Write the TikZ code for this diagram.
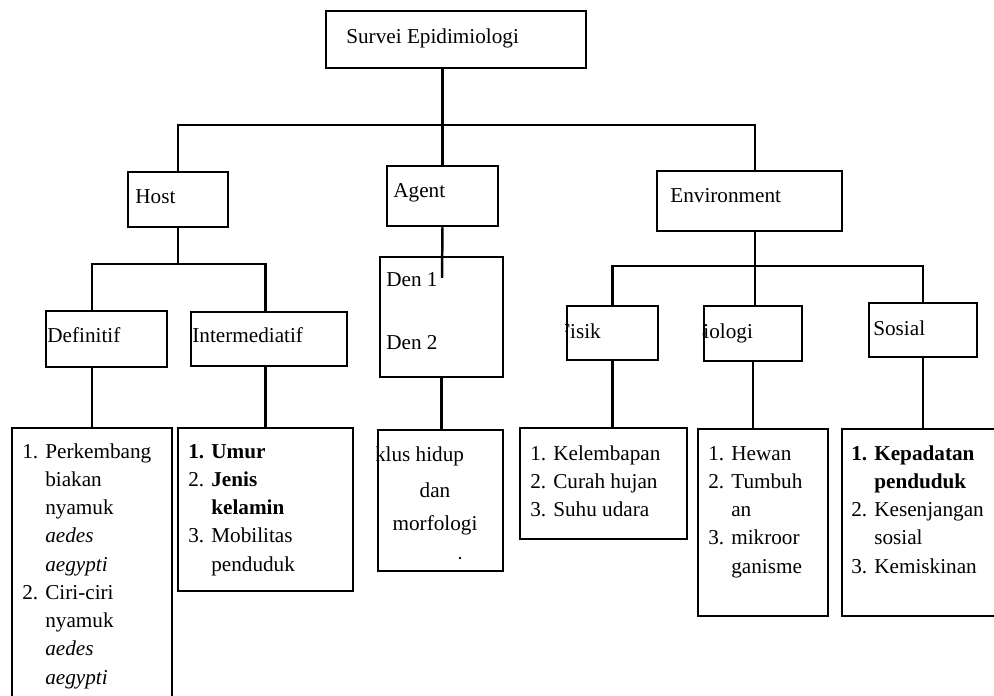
\documentclass[tikz,border=0pt]{standalone}
\usepackage{fontspec}
\setmainfont{Liberation Serif}
\usepackage{tikz}
\usetikzlibrary{positioning,fit,calc}

\tikzset{
    box/.style={draw, line width=1.4pt, inner sep=0pt},
    lbl/.style={font=\fontsize{12}{16}\selectfont, inner sep=0pt, anchor=base west},
    link/.style={line width=1.4pt}
}

\begin{document}
\begin{tikzpicture}[x=0.566pt, y=-0.566pt]
    \useasboundingbox (0,0) rectangle (994,695);
    \clip (0,0) rectangle (994,695);

    % boxes
    \node[box, fit={(326,11) (586,68)}] (survei) {};
    \node[box, fit={(128,172) (228,227)}] (host) {};
    \node[box, fit={(387,166) (498,226)}] (agent) {};
    \node[box, fit={(657,171) (842,231)}] (env) {};
    \node[box, fit={(46,311) (167,367)}] (definitif) {};
    \node[box, fit={(191,312) (347,366)}] (intermed) {};
    \node[box, fit={(380,257) (503,377)}] (den) {};
    \node[box, fit={(567,306) (658,360)}] (fisik) {};
    \node[box, fit={(704,306) (802,361)}] (biologi) {};
    \node[box, fit={(869,303) (977,357)}] (sosial) {};
    \node[box, fit={(12,428) (172,720)}] (deflist) {};
    \node[box, fit={(178,428) (353,591)}] (intlist) {};
    \node[box, fit={(378,430) (503,571)}] (morflist) {};
    \node[box, fit={(520,428) (687,539)}] (fisiklist) {};
    \node[box, fit={(698,429) (828,616)}] (biolist) {};
    \node[box, fit={(842,429) (1010,616)}] (soslist) {};

    % labels
    \node[lbl] (survei-t) at (346,43) {Survei Epidimiologi};
    \node[lbl] (host-t) at (135,203) {Host};
    \node[lbl] (agent-t) at (393,197) {Agent};
    \node[lbl] (env-t) at (670,202) {Environment};
    \node[lbl] (definitif-t) at (47,342) {Definitif};
    \node[lbl] (intermed-t) at (192,342) {Intermediatif};
    \node[lbl] (den-a) at (386,286) {Den 1};
    \node[lbl] (den-b) at (386,349) {Den 2};
    \node[lbl] (sosial-t) at (873,335) {Sosial};
    \begin{scope}
        \clip (fisik.south west) rectangle (fisik.north east);
        \node[lbl] (fisik-t) at (558,338) {Fisik};
    \end{scope}
    \begin{scope}
        \clip (biologi.south west) rectangle (biologi.north east);
        \node[lbl] (biologi-t) at (689,338) {Biologi};
    \end{scope}
    \begin{scope}
        \clip (morflist.south west) rectangle (morflist.north east);
        \node[lbl] (morf-a) at (357,461) {Siklus hidup};
    \end{scope}
    \node[lbl, anchor=base] (morf-b) at (435,497) {dan};
    \node[lbl, anchor=base] (morf-c) at (435,530) {morfologi};
    \fill (460,558) circle (1.3);

    % lists
    \node[lbl] (deflist-t) at (22,458) {\begin{tabular}[t]{@{}l@{\hspace{4pt}}l@{}}
        1. & Perkembang\\
           & biakan\\
           & nyamuk\\
           & \textit{aedes}\\
           & \textit{aegypti}\\
        2. & Ciri-ciri\\
           & nyamuk\\
           & \textit{aedes}\\
           & \textit{aegypti}
    \end{tabular}};
    \node[lbl] (intlist-t) at (188,458) {\begin{tabular}[t]{@{}l@{\hspace{4pt}}l@{}}
        \textbf{1.} & \textbf{Umur}\\
        2. & \textbf{Jenis}\\
           & \textbf{kelamin}\\
        3. & Mobilitas\\
           & penduduk
    \end{tabular}};
    \node[lbl] (fisiklist-t) at (530,460) {\begin{tabular}[t]{@{}l@{\hspace{4pt}}l@{}}
        1. & Kelembapan\\
        2. & Curah hujan\\
        3. & Suhu udara
    \end{tabular}};
    \node[lbl] (biolist-t) at (708,460) {\begin{tabular}[t]{@{}l@{\hspace{4pt}}l@{}}
        1. & Hewan\\
        2. & Tumbuh\\
           & an\\
        3. & mikroor\\
           & ganisme
    \end{tabular}};
    \node[lbl] (soslist-t) at (851,460) {\begin{tabular}[t]{@{}l@{\hspace{4pt}}l@{}}
        \textbf{1.} & \textbf{Kepadatan}\\
           & \textbf{penduduk}\\
        2. & Kesenjangan\\
           & sosial\\
        3. & Kemiskinan
    \end{tabular}};

    % connectors
    \coordinate (hub) at (442,125);
    \coordinate (hbar) at (178,264);
    \coordinate (ebar) at (755,266);
    \draw[link] (agent.north) -- (agent.north |- survei.south);
    \draw[link] (host.north) |- (hub) -| (env.north -| ebar);
    \draw[link] (host.south) -- (hbar);
    \draw[link] (definitif.north -| deflist.north) |- (hbar) -| (intermed.north -| intlist.north);
    \draw[link] (definitif.south -| deflist.north) -- (deflist.north);
    \draw[link] (intermed.south -| intlist.north) -- (intlist.north);
    \draw[link] (agent.south) -- ($(den.north)+(0.5,22)$);
    \draw[link] (den.south) -- (den.south |- morflist.north);
    \draw[link] (ebar |- env.south) -- (ebar);
    \draw[link] (fisik.north) |- (ebar) -| (sosial.north);
    \draw[link] (ebar |- biologi.north) -- (ebar);
    \draw[link] (fisik.south) -- (fisik.south |- fisiklist.north);
    \draw[link] (biologi.south) -- (biologi.south |- biolist.north);
    \draw[link] (sosial.south) -- (sosial.south |- soslist.north);
\end{tikzpicture}
\end{document}
